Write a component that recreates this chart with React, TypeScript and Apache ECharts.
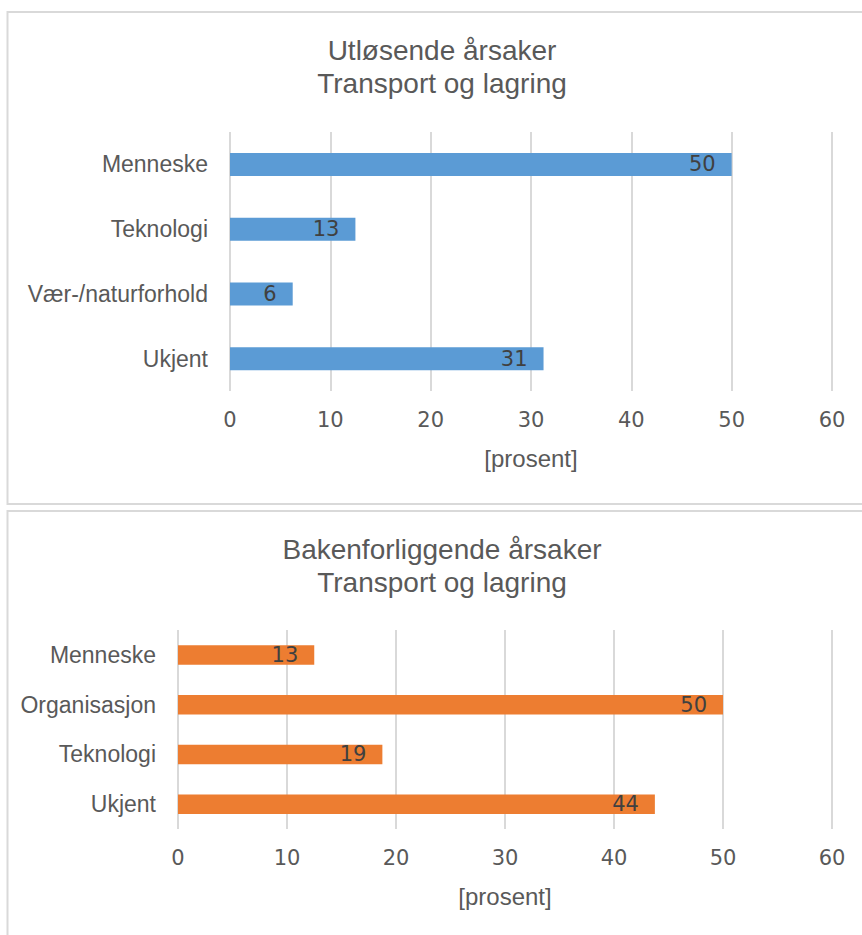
import React, { useEffect, useRef } from "react";
import * as echarts from "echarts";

// Utløsende årsaker (top panel)
const topCategories = ["Menneske", "Teknologi", "Vær-/naturforhold", "Ukjent"];
const topValues = [50, 12.5, 6.25, 31.25];

// Bakenforliggende årsaker (bottom panel)
const bottomCategories = ["Menneske", "Organisasjon", "Teknologi", "Ukjent"];
const bottomValues = [12.5, 50, 18.75, 43.75];

const topTitle = ["Utløsende årsaker", "Transport og lagring"];
const bottomTitle = ["Bakenforliggende årsaker", "Transport og lagring"];
const axisName = "[prosent]";
const axisMin = 0;
const axisMax = 60;
const axisStep = 10;

const TEXT_FONT = "'Liberation Sans', Arial, sans-serif";
const NUM_FONT = "'DejaVu Sans', sans-serif";
const GREY = "#595959";
const DARK = "#404040";
const GRID_LINE = "#d9d9d9";

function valueAxis(gridIndex: number) {
  return {
    type: "value",
    gridIndex,
    min: axisMin,
    max: axisMax,
    interval: axisStep,
    name: axisName,
    nameLocation: "middle",
    nameGap: 55,
    nameTextStyle: { color: GREY, fontSize: 24, fontFamily: TEXT_FONT },
    axisLine: { show: false },
    axisTick: { show: false },
    axisLabel: { color: GREY, fontSize: 21, fontFamily: NUM_FONT, margin: 18 },
    splitLine: { show: true, lineStyle: { color: GRID_LINE, width: 2 } },
  };
}

function categoryAxis(gridIndex: number, data: string[]) {
  return {
    type: "category",
    gridIndex,
    data,
    inverse: true,
    axisLine: { show: false },
    axisTick: { show: false },
    axisLabel: { color: GREY, fontSize: 23, fontFamily: TEXT_FONT, margin: 22 },
    splitLine: { show: false },
  };
}

function barSeries(index: number, data: number[], color: string, width: number) {
  return {
    type: "bar",
    xAxisIndex: index,
    yAxisIndex: index,
    data,
    barWidth: width,
    itemStyle: { color },
    label: {
      show: true,
      position: "insideRight",
      distance: 16,
      color: DARK,
      fontSize: 21,
      fontFamily: NUM_FONT,
      formatter: (p: any) => String(Math.round(p.value)),
    },
  };
}

function titleLines(lines: string[], top: number) {
  return lines.map((t, i) => ({
    type: "text",
    x: 442,
    y: top + i * 33,
    style: {
      text: t,
      fill: GREY,
      fontSize: 28,
      fontFamily: TEXT_FONT,
      align: "center",
      verticalAlign: "middle",
    },
  }));
}

export default function App() {
  const ref = useRef<HTMLDivElement>(null);

  useEffect(() => {
    if (!ref.current) return;
    const chart = echarts.init(ref.current, undefined, { renderer: "svg" });
    chart.setOption({
      animation: false,
      backgroundColor: "#ffffff",
      grid: [
        { left: 230, right: 30, top: 132, height: 259 },
        { left: 178, right: 30, top: 630, height: 199 },
      ],
      xAxis: [valueAxis(0), valueAxis(1)],
      yAxis: [categoryAxis(0, topCategories), categoryAxis(1, bottomCategories)],
      series: [
        barSeries(0, topValues, "#5b9bd5", 23),
        barSeries(1, bottomValues, "#ed7d31", 19.5),
      ],
      graphic: [
        {
          type: "rect",
          shape: { x: 7.5, y: 12, width: 900, height: 492 },
          style: { fill: "none", stroke: GRID_LINE, lineWidth: 2 },
          silent: true,
        },
        {
          type: "rect",
          shape: { x: 7.5, y: 511, width: 900, height: 500 },
          style: { fill: "none", stroke: GRID_LINE, lineWidth: 2 },
          silent: true,
        },
        ...titleLines(topTitle, 50),
        ...titleLines(bottomTitle, 549),
      ],
    });
    return () => chart.dispose();
  }, []);

  return (
    <div
      ref={ref}
      style={{ position: "absolute", left: 0, top: 0, width: 862, height: 935 }}
    />
  );
}
